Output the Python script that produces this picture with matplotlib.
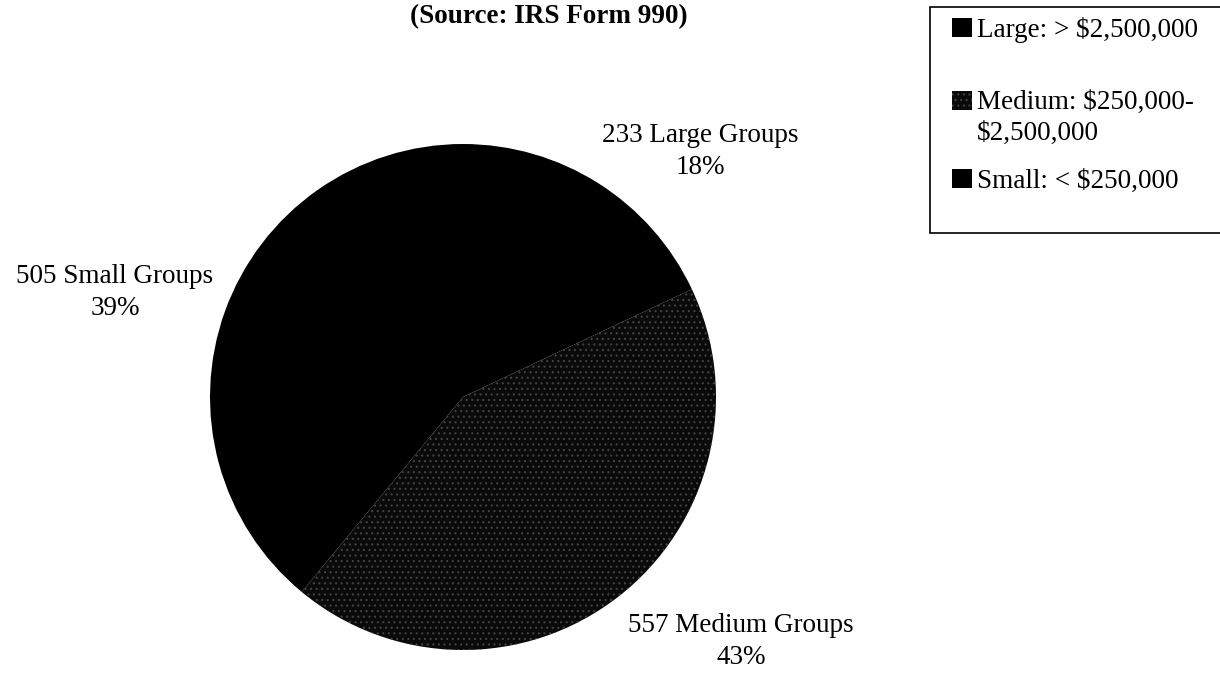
import matplotlib
matplotlib.use("Agg")
import matplotlib.pyplot as plt
from matplotlib.patches import Rectangle

# ---- data ----
categories = ["Large", "Medium", "Small"]
counts = [233, 557, 505]
legend_labels = ["Large: > $2,500,000", "Medium: $250,000-\n$2,500,000", "Small: < $250,000"]
title_text = "(Source: IRS Form 990)"

# ---- style ----
W, H = 1220, 673
SERIF = ["Liberation Serif", "DejaVu Serif"]
FS = 19.5
face_colors = ["#000000", "#0a0a0a", "#000000"]
hatches = [None, "...", None]
hatch_edge = ["#000000", "#424242", "#000000"]

plt.rcParams["font.family"] = SERIF
plt.rcParams["hatch.linewidth"] = 0.8

fig = plt.figure(figsize=(W / 100, H / 100), dpi=100)
fig.patch.set_facecolor("white")

# pie axes: center (463, 397) px, radius 253 px
cx, cy, r = 463, 397, 253
ax = fig.add_axes([(cx - r) / W, (H - cy - r) / H, 2 * r / W, 2 * r / H])
wedges, _ = ax.pie(counts, colors=face_colors, startangle=90, counterclock=False,
                   radius=1, wedgeprops=dict(linewidth=0))
for w, h, ec in zip(wedges, hatches, hatch_edge):
    if h:
        w.set_hatch(h)
        w.set_edgecolor(ec)
        w.set_linewidth(0)
ax.set_xlim(-1, 1)
ax.set_ylim(-1, 1)
ax.set_aspect("equal")
ax.axis("off")

total = sum(counts)
# label anchor positions (px, last-line baseline) for each category
label_pos = {"Large": (700, 174), "Medium": (741, 664), "Small": (115, 315)}
for cat, c in zip(categories, counts):
    px, py = label_pos[cat]
    pct = round(100 * c / total)
    fig.text(px / W, 1 - py / H, f"{c} {cat} Groups\n{pct}%", ha="center", va="baseline",
             fontsize=FS, family=SERIF, linespacing=1.38, multialignment="center")

# title
fig.text(549 / W, 1 - 23 / H, title_text, ha="center", va="baseline",
         fontsize=FS, fontweight="bold", family=SERIF)

# legend box
box = Rectangle((930 / W, 1 - 233 / H), 320 / W, 226 / H, transform=fig.transFigure,
                facecolor="white", edgecolor="black", linewidth=1.2, clip_on=False)
fig.add_artist(box)
swatch_bottoms = [37, 110, 188]
text_baselines = [37, 140, 188]
for lab, fc, h, ec, sb, tb in zip(legend_labels, face_colors, hatches, hatch_edge,
                                  swatch_bottoms, text_baselines):
    sw = Rectangle((952 / W, 1 - sb / H), 20 / W, 19 / H, transform=fig.transFigure,
                   facecolor=fc, edgecolor=ec if h else "none", linewidth=0, hatch=h)
    fig.add_artist(sw)
    fig.text(977 / W, 1 - tb / H, lab, ha="left", va="baseline", fontsize=FS,
             family=SERIF, linespacing=1.3)

fig.savefig("out.png", dpi=100, facecolor="white")
